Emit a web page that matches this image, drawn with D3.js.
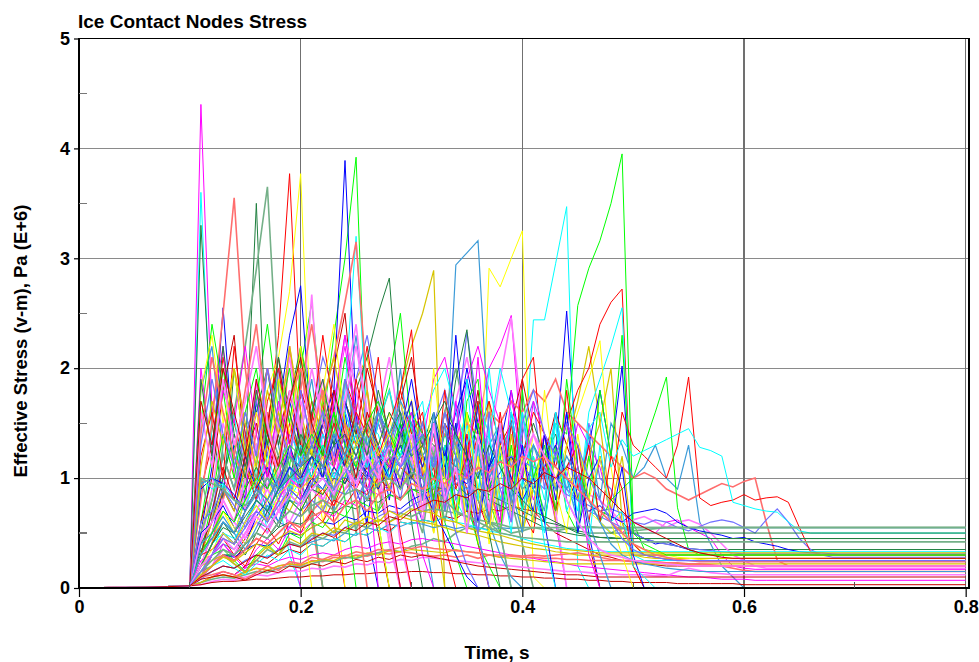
<!DOCTYPE html>
<html>
<head>
<meta charset="utf-8">
<script src="https://cdn.jsdelivr.net/npm/d3@7"></script>
<style>
  body { margin: 0; background: #fff; }
  text { font-family: "Liberation Sans", Arial, sans-serif; font-weight: bold; fill: #000; }
</style>
</head>
<body>
<svg id="chart" width="979" height="662"></svg>
<script>
// Time axis (s) and effective stress (v-m, Pa E+6) for each ice contact node.
// Before contact every node shares the same small ramp; from 0.11 s each node
// has one sample every 0.01 s, and its last sample is held until the end time.
const preContactTime   = [0, 0.02, 0.04, 0.06, 0.08, 0.10];
const preContactStress = [0, 0.002, 0.004, 0.007, 0.012, 0.02];
const contactStartHundredths = 11;   // first contact sample: 0.11 s
const endTime = 0.8;

const xTicks = [0, 0.2, 0.4, 0.6, 0.8];
const xTickLabels = ["0", "0.2", "0.4", "0.6", "0.8"];
const xMinorTicks = [0.1, 0.3, 0.5, 0.7];
const yTicks = [0, 1, 2, 3, 4, 5];
const yTickLabels = ["0", "1", "2", "3", "4", "5"];
const yMinorTicks = [0.5, 1.5, 2.5, 3.5, 4.5];

// early impact peaks
const n00 = [0.9,1.3,2.1,1.5,1.1,1.8,1.4,2.3,3.77,1.6, 0.9,1.7,0.6,0];
const n01 = [0.6,1.2,2.0,1.3,0.9,1.7,2.4,1.6,1.1,2.0, 2.6,1.5,2.3,3.0,3.92,1.2,0.6,0];
const n02 = [0.5,1.1,2.55,1.2,0.8,1.7,1.1,1.6,2.3,2.75, 1.4,1.0,1.8,3.89,1.6,0.5,0];
const n03 = [3.6,1.3,0.9,1.6,0.7,1.1,0.5,0.8,0.3,0];
const n04 = [4.4,1.6,2.2,1.0,0.8,1.9,0.6,1.2,0.4,0];
const n05 = [0.5,0.9,1.4,1.0,0.7,1.2,1.8,2.1,2.7,3.77, 1.2,0.6,1.0,0];
const n06 = [3.3,1.5,0.8,2.0,1.2,3.5,1.0,1.4,0.9,1.6, 0.7,0];
const n07 = [1.8,2.2,1.2,0.9,1.5,1.1,2.0,1.3,0.8,1.4, 1.9,1.2,0.7,1.6,2.3,1.4,0.9,1.2,2.0,1.1, 0.6,0];
const n08 = [0.8,1.5,2.5,3.55,2.0,1.2,1.6,0.9,2.2,1.4, 0.6,0];
const n09 = [1.0,0.6,1.3,1.6,2.2,2.9,3.65,1.8,0.9,1.5, 0.7,0];
const n10 = [0.2,0.5,0.8,0.6,1.0,1.3,0.9,1.2,1.6,1.1, 1.4,1.8,1.5,1.2,1.9,2.1,1.6,1.3,1.8,2.2, 2.5,2.89,0];
const n11 = [0.4,0.9,1.5,1.1,0.7,1.3,1.0,1.6,2.1,1.4, 2.67,1.2,0.8,1.8,2.4,1.5,1.0,0.4,0];
const n12 = [0.3,0.7,1.2,0.9,1.4,1.7,1.2,2.0,1.5,1.1, 1.6,2.1,1.8,1.3,1.9,2.3,1.7,1.2,0.8,1.4, 1.0,0.6,0.9,1.3,0.8,0.5,0];
const n13 = [0.6,1.0,1.8,2.3,1.2,0.8,1.5,2.1,1.3,0.9, 1.6,1.2,2.0,2.5,1.4,0.9,0.5,0];

// peaks between 0.25 s and 0.45 s
const n14 = [0.2,0.4,0.9,0.7,1.1,0.8,1.3,1.0,1.5,1.2, 1.7,1.4,1.1,1.9,1.6,2.2,1.5,1.2,1.8,2.35, 1.0,1.4,0.8,1.2,0.9,0.4,0];
const n15 = [0.3,0.8,1.4,1.0,1.6,1.2,0.9,1.5,2.0,1.3, 1.1,1.7,1.4,2.1,1.6,1.2,1.5,1.9,2.5,1.4, 0.7,1.0,0.6,0.3,0];
const n16 = [0.2,0.5,0.9,0.7,1.2,0.9,1.4,1.1,1.7,1.3, 1.0,1.5,1.8,1.3,1.1,1.6,1.2,1.0,1.4,1.9, 1.3,1.0,1.6,1.4,2.0,1.5,1.1,1.3,1.8,1.2, 0.9,0.6,1.2,2.52,1.1,0.5,0];
const n17 = [0.1,0.3,0.6,0.5,0.8,1.0,0.7,1.1,1.4,1.2, 1.0,1.5,1.3,1.8,3.2,1.5,1.4,1.0,1.3,1.6, 1.2,1.0,1.4,1.1,1.6,1.3,1.0,1.2,1.5,0.9, 2.44,2.44,2.95,3.47,0.2,0];
const n18 = [0.3,0.6,1.0,0.8,1.3,1.6,1.1,0.9,1.4,1.8, 1.3,1.0,1.7,2.2,1.5,1.2,0.9,1.4,1.1,1.6, 1.3,1.9,2.1,1.6,1.2,1.5,2.0,2.2,2.48,1.2, 0.8,1.1,0.6,0];
const n19 = [0.2,0.4,0.7,0.6,0.9,1.1,0.8,1.2,1.0,1.4, 1.1,1.6,1.3,1.0,1.5,1.2,0.9,1.3,1.7,1.1, 0.8,1.2,0.9,1.3,1.6,0.4,2.91,2.74,3.0,3.25, 0.1,0];
const n20 = [0.4,0.6,1.0,1.4,1.1,1.6,2.0,1.3,1.7,2.2, 1.5,1.0,1.6,2.3,1.8,2.1,2.5,2.82,1.5,0.6, 0];
const n21 = [0.2,0.4,0.6,0.5,0.8,1.0,0.7,0.9,1.2,1.0, 1.3,1.1,1.5,1.2,1.6,1.3,1.1,1.4,1.2,1.5, 1.2,1.4,1.0,2.94,3.05,3.16,1.4,0.5,0];
const n22 = [0.2,0.4,0.8,1.2,1.0,1.4,2.0,1.5,1.2,1.8, 2.4,1.7,2.1,2.6,3.15,1.8,0.9,0.5,0];
const n23 = [0.5,0.8,1.2,0.9,1.3,1.0,1.5,1.2,0.9,1.4, 1.1,1.6,1.3,1.9,1.4,1.1,1.5,1.8,1.3,1.0, 1.4,1.1,1.6,2.0,1.5,1.2,1.0,1.3,0.8,0.4, 0];
const n24 = [0.3,0.6,0.9,0.7,1.1,0.9,1.3,1.6,1.2,1.0, 1.4,1.2,0.8,1.1,1.5,1.3,1.0,1.2,0.9,1.1, 0.6,1.3,0.7,1.5,0.5,1.1,1.7,0.8,1.2,0.5, 0.9,1.4,0.6,1.3,1.7,2.2,1.5,0.7,1.2,0.4, 0.3];
const n25 = [0.2,0.5,0.8,0.6,1.0,1.3,0.9,1.5,1.2,1.7, 1.4,1.9,1.5,2.3,1.8,1.2,1.6,2.1,1.4,1.0, 1.5,1.2,0.9,1.7,2.1,1.6,1.3,1.9,2.46,1.5, 1.0,1.3,0.7,0];
const n26 = [0.1,0.3,0.5,0.4,0.7,0.9,0.6,1.0,0.8,1.2, 1.0,1.4,1.1,1.6,1.3,1.1,1.5,1.2,1.6,1.3, 1.1,1.5,1.8,1.4,2.33,1.6,1.2,1.5,1.1,1.4, 1.7,0.9,1.6,0.8,0.6,1.5,1.0,0.9,0.6,0.3, 0.3];
const n27 = [0.3,0.7,1.1,0.8,1.2,1.5,1.0,1.4,1.8,1.3, 1.0,1.5,1.2,1.7,1.4,2.0,1.6,1.3,1.7,2.1, 1.4,0.7,1.3,0.6,1.2,1.8,0.9,0.6,1.5,1.9, 1.4,1.2,1.6,1.3,1.0,0.4,0];

// late peaks around 0.5 s
const n28 = [0.1,0.2,0.35,0.3,0.45,0.6,0.5,0.7,0.9,0.8, 1.0,1.2,0.9,1.1,1.4,1.2,1.0,1.3,1.6,1.2, 0.9,1.1,1.5,1.3,1.0,1.4,1.7,1.3,1.0,1.2, 1.6,1.4,1.1,1.5,1.8,2.0,2.4,2.6,2.72,0.4, 0.3,0.28,0.26,0.25];
const n29 = [0.1,0.2,0.3,0.25,0.4,0.5,0.45,0.6,0.8,0.7, 0.9,1.1,0.8,1.0,1.3,1.1,0.9,1.2,1.5,1.1, 1.3,1.0,1.4,1.2,1.6,1.3,1.1,1.5,1.2,1.0, 1.3,1.1,1.5,1.4,2.57,2.91,3.16,3.5,3.95,0.6, 0.35,0.33,0.3,0.3];
const n30 = [0.1,0.3,0.5,0.4,0.6,0.8,0.7,0.9,1.1,1.0, 1.2,0.7,1.1,1.6,0.9,0.6,1.3,0.8,1.5,0.9, 0.6,1.3,0.8,1.5,0.7,1.7,1.0,0.6,1.6,1.0, 0.7,1.4,0.9,1.6,0.8,1.3,1.8,1.2,2.02,0.5, 0.45,0.4,0.42,0.38,0.35,0.32,0.3,0.3];
const n31 = [0.2,0.4,0.6,0.5,0.7,0.9,0.8,1.0,0.9,1.2, 1.0,1.3,1.1,1.5,1.2,1.4,1.1,1.3,1.6,1.2, 1.4,0.8,1.3,0.6,1.5,0.9,1.4,0.7,1.6,1.0, 0.6,1.2,1.5,0.9,0.7,1.6,1.9,2.2,2.55,0.3, 0.25];
const n32 = [0.1,0.2,0.4,0.3,0.5,0.7,0.6,0.8,1.0,0.9, 1.1,0.8,1.0,1.3,1.1,0.9,1.2,1.0,1.4,1.1, 0.9,1.2,1.6,1.3,1.9,2.2,1.8,1.5,1.7,1.3, 1.1,1.4,1.2,1.0,1.5,1.3,1.1,0.7,0.5,0.6, 0.55,0.5,0.6,0.62,0.55,0.5,0.45,0.3,0.2,0.18, 0.17];
const n33 = [0.2,0.4,0.7,0.5,0.8,1.0,0.8,1.1,1.3,1.0, 1.2,0.7,1.1,1.5,0.8,0.5,1.3,1.6,0.9,1.4, 0.7,1.5,0.9,0.5,1.4,1.7,0.9,0.6,1.3,0.8, 1.4,1.2,1.0,1.3,1.6,1.9,2.25,1.1,0.5,0.2, 0];
const n34 = [0.3,0.5,0.7,0.6,0.9,1.1,0.9,1.2,1.0,1.4, 1.2,1.5,1.3,1.7,1.4,1.2,1.6,1.4,1.1,1.5, 1.3,1.6,1.2,1.9,2.35,1.4,1.1,1.3,1.0,1.2, 1.5,1.2,1.4,1.0,0.9,0.8,0.7,0.65,0.6,0.5, 0.45,0.42,0.4,0.38,0.36,0.35];
const n35 = [0.1,0.3,0.4,0.35,0.5,0.6,0.55,0.7,0.8,0.75, 0.9,1.0,0.85,1.1,1.0,1.2,1.05,1.3,1.1,1.2, 0.6,1.3,0.8,1.4,0.7,0.5,1.3,1.5,0.8,1.6, 1.0,0.7,1.6,1.0,0.6,1.4,0.8,1.5,1.3,1.0, 1.1,1.3,1.0,0.9,1.3,0.6,0.4,0.2,0.1,0];
const n36 = [0.1,0.2,0.3,0.25,0.35,0.45,0.4,0.5,0.6,0.55, 0.7,0.8,0.75,0.9,1.0,0.9,1.1,1.0,1.2,1.1, 1.3,1.2,1.4,1.3,1.5,1.4,1.6,1.5,1.7,1.6, 1.8,1.7,1.9,1.6,1.5,1.4,1.3,1.2,1.1,1.0, 1.05,1.0,0.9,0.85,0.8,0.85,0.9,0.95,0.92,0.97, 1.0,0.6,0.25,0.2,0.2];
const n37 = [0.2,0.3,0.5,0.4,0.6,0.8,0.7,0.9,1.1,1.0, 0.6,1.3,0.8,1.2,0.5,1.2,0.7,1.1,1.4,0.8, 0.5,1.2,0.6,1.1,1.3,0.6,1.2,0.7,1.1,0.9, 1.0,1.2,0.9,1.1,1.3,0.8,0.6,0.5,0.55,0.52, 0.53,0.54,0.55,0.55];
const n38 = [0.15,0.3,0.45,0.4,0.6,0.75,0.6,0.8,0.7,0.9, 1.0,0.85,1.1,0.95,1.2,1.0,0.9,1.15,1.0,1.3, 1.1,0.5,1.2,0.6,1.3,0.7,0.95,0.5,1.4,0.7, 0.9,1.1,1.3,1.0,0.8,1.2,1.5,2.0,0.6,0.3, 0.28,0.27,0.27];
const n39 = [0.1,0.2,0.35,0.3,0.5,0.6,0.5,0.7,0.6,0.8, 0.9,0.8,1.0,0.9,1.1,1.0,1.2,1.1,0.95,1.2, 0.6,1.3,0.7,1.0,1.4,0.6,1.1,0.5,1.0,1.2, 1.4,1.1,1.3,1.0,0.9,0.85,0.8,0.7,0.6,0.62, 0.65,0.6,0.55,0.6,0.62,0.58,0.5,0.4,0.3,0.25, 0.2,0.18];
const n40 = [0.1,0.2,0.3,0.3,0.4,0.5,0.45,0.6,0.55,0.7, 0.8,0.7,0.9,0.85,1.0,0.9,1.1,1.0,1.2,1.1, 1.0,1.2,1.1,1.3,1.2,1.0,1.1,0.9,1.0,1.1, 1.0,0.9,0.95,0.85,0.8,0.75,0.7,0.72,0.68,0.6, 0.58,0.62,0.6,0.55,0.52,0.56,0.6,0.62,0.6,0.55, 0.5,0.62,0.72,0.6,0.45,0.35,0.3,0.28];
const n41 = [0.05,0.1,0.15,0.12,0.2,0.25,0.22,0.3,0.35,0.32, 0.4,0.38,0.45,0.42,0.5,0.48,0.55,0.52,0.6,0.58, 0.62,0.6,0.65,0.63,0.7,0.68,0.72,0.7,0.75,0.72, 0.7,0.6,0.5,0.45,0.4,0.35,0.3,0.28,0.25,0.24, 0.22,0.21,0.2,0.2];

// peaks after 0.5 s and the residual stress levels
const n42 = [0.1,0.2,0.3,0.25,0.4,0.5,0.45,0.6,0.7,0.65, 0.8,0.9,0.75,1.0,0.9,1.1,1.0,1.2,1.1,1.3, 1.2,0.6,1.3,0.7,1.4,0.8,0.5,1.3,1.5,0.7, 0.5,1.2,0.7,1.1,1.3,0.6,1.2,0.8,1.6,1.3, 1.2,1.1,1.0,1.3,1.92,0.82,0.75,0.78,0.8,0.85, 0.8,0.82,0.83,0.78,0.55,0.33,0.3];
const n43 = [0.2,0.4,0.6,0.5,0.7,0.9,0.8,1.0,1.2,1.1, 1.0,1.3,1.1,1.4,1.2,1.0,1.3,1.1,1.5,1.2, 1.4,0.7,1.3,0.6,1.2,1.5,0.8,0.5,1.3,0.7, 1.2,0.6,1.3,0.7,0.5,1.2,0.6,0.8,0.9,1.0, 1.3,1.6,1.92,0.73,0.35,0.3,0.3,0.3];
const n44 = [0.1,0.2,0.3,0.28,0.35,0.4,0.38,0.45,0.5,0.48, 0.55,0.6,0.58,0.65,0.62,0.7,0.68,0.75,0.72,0.8, 0.85,0.9,0.82,1.0,0.95,1.1,0.9,1.05,1.2,1.0, 0.9,1.1,1.3,1.0,0.8,0.7,0.75,0.65,0.6,0.68, 0.7,0.72,0.68,0.6,0.55,0.52,0.5,0.48,0.45,0.46, 0.42,0.4,0.38,0.35,0.33,0.32,0.32,0.31,0.3];
const n45 = [0.15,0.3,0.5,0.4,0.6,0.75,0.65,0.85,0.8,1.0, 0.95,1.1,1.0,1.2,1.1,1.3,1.15,1.0,1.25,1.1, 1.2,0.7,1.3,0.8,0.6,1.25,1.4,0.8,1.1,0.7, 1.2,0.8,1.6,1.0,0.7,1.45,1.6,1.1,1.35,1.2, 1.25,1.3,1.35,1.4,1.45,1.28,1.25,1.2,0.78,0.75, 0.72,0.7,0.69,0.6,0.52,0.5,0.5];
const n46 = [0.05,0.1,0.15,0.12,0.18,0.22,0.2,0.25,0.28,0.26, 0.3,0.32,0.3,0.35,0.38,0.36,0.4,0.42,0.4,0.44, 0.45,0.43,0.42,0.4,0.38,0.36,0.34,0.32,0.3,0.28, 0.27,0.25,0.24,0.22,0.2,0.19,0.18,0.17,0.16,0.15, 0.14,0.13,0.12,0.11,0.1,0.1,0.09,0.08,0.08,0.08, 0.07,0.07,0.07];
const n47 = [0.1,0.3,0.5,0.4,0.6,0.8,0.7,0.9,0.8,1.1, 1.0,1.2,0.9,1.1,1.3,1.0,1.2,1.4,1.1,1.0, 1.2,0.5,1.1,1.3,0.6,1.2,0.4,1.0,1.1,0.5, 1.0,1.2,0.9,1.1,0.8,0.7,0.6,0.5,0.45,0.4, 0.35,0.32,0.3,0.28,0.27,0.26,0.25,0.25];
const n48 = [0.1,0.2,0.3,0.3,0.4,0.5,0.45,0.55,0.6,0.58, 0.65,0.7,0.68,0.75,0.72,0.8,0.78,0.85,0.82,0.9, 0.88,0.92,0.9,0.95,0.85,0.9,0.8,0.75,0.7,0.65, 0.6,0.55,0.52,0.5,0.48,0.47,0.46,0.46,0.45,0.45];
const n49 = [0.1,0.15,0.2,0.18,0.25,0.3,0.28,0.35,0.4,0.38, 0.42,0.45,0.43,0.5,0.48,0.55,0.52,0.58,0.56,0.6, 0.58,0.55,0.57,0.54,0.56,0.55,0.53,0.55,0.54,0.55];
const n50 = [0.05,0.1,0.12,0.1,0.15,0.18,0.16,0.2,0.22,0.2, 0.25,0.24,0.28,0.27,0.3,0.29,0.32,0.31,0.33,0.32, 0.3,0.29,0.3,0.28,0.3,0.27,0.3,0.28,0.3,0.29, 0.3,0.29,0.3,0.31,0.32,0.3,0.28,0.26,0.25,0.24, 0.24,0.23,0.22,0.22,0.21,0.21,0.2,0.2];
const n51 = [0.05,0.08,0.1,0.09,0.12,0.15,0.14,0.18,0.2,0.19, 0.22,0.25,0.24,0.28,0.27,0.3,0.32,0.35,0.33,0.38, 0.4,0.45,0.42,0.5,0.55,0.52,0.6,0.55,0.5,0.52, 0.55,0.53,0.52,0.54,0.55,0.56,0.55,0.55,0.54,0.55];
const n52 = [0.05,0.1,0.12,0.1,0.14,0.18,0.16,0.2,0.22,0.21, 0.24,0.26,0.25,0.3,0.28,0.32,0.3,0.34,0.33,0.35, 0.34,0.33,0.32,0.35,0.33,0.32,0.3,0.28,0.27,0.26, 0.25,0.24,0.23,0.22,0.22,0.22];
const n53 = [0.03,0.06,0.08,0.07,0.1,0.12,0.11,0.14,0.16,0.15, 0.18,0.17,0.2,0.19,0.22,0.21,0.24,0.23,0.26,0.25, 0.28,0.27,0.26,0.25,0.24,0.23,0.22,0.21,0.2,0.19, 0.18,0.17,0.16,0.15,0.15,0.14,0.13,0.13,0.12,0.12, 0.12,0.11,0.11,0.15,0.18,0.16,0.14,0.13,0.12,0.12];
const n54 = [0.08,0.15,0.2,0.18,0.25,0.3,0.28,0.35,0.4,0.38, 0.45,0.5,0.48,0.55,0.6,0.58,0.65,0.7,0.68,0.75, 0.8,0.85,0.9,0.95,1.0,1.05,1.1,1.15,1.2,1.15, 1.1,1.05,1.0,0.9,0.8,0.7,0.65,0.6,0.55,0.5, 0.45,0.42,0.4,0.38,0.36,0.35,0.34,0.33,0.32,0.31];
const n55 = [0.03,0.05,0.06,0.06,0.07,0.08,0.08,0.09,0.1,0.1, 0.11,0.11,0.12,0.12,0.13,0.13,0.14,0.14,0.14,0.15, 0.15,0.14,0.14,0.13,0.13,0.12,0.12,0.11,0.11,0.1, 0.1,0.09,0.09,0.08,0.08,0.07,0.07,0.06,0.06,0.05, 0.05,0.05,0.05,0.04,0.04,0.04,0.04,0.04,0.04,0.03, 0.03];

// low stress band and early contact losses
const n56 = [0.3,0.35,0.45,0.3,0.2,0.4,0.55,0.4,0.6,0.5, 0.7,0.6,0.8,0.75,0.9,0.85,1.0,0.9,1.1,1.0, 1.2,1.1,0.4,0];
const n57 = [0.2,0.3,0.35,0.25,0.15,0.3,0.4,0.3,0.5,0.45, 0.6,0.55,0.7,0.65,0.8,0.75,0.7,0.85,0.8,0.9, 0.85,0.95,1.0,0.9,0.8,0.4,0.2,0];
const n58 = [0.5,0.6,0.75,0.55,0.4,0.65,0.8,0.6,0.9,0.8, 1.0,0.9,1.1,0.95,1.2,1.05,0.9,1.1,1.3,1.0, 0.9,0.7,0.5,0.3,0.1,0];
const n59 = [0.15,0.2,0.25,0.18,0.12,0.22,0.3,0.25,0.35,0.3, 0.4,0.38,0.45,0.42,0.5,0.48,0.55,0.5,0.6,0.58, 0.62,0.6,0.65,0.6,0.58,0.55,0.52,0.5,0.48,0.45, 0.42,0.4,0.38,0.36,0.35,0.34,0.34,0.33,0.33,0.33];
const n60 = [0.25,0.3,0.4,0.28,0.18,0.35,0.45,0.35,0.55,0.5, 0.6,0.7,0.65,0.8,0.75,0.9,0.85,0.95,1.0,0.9, 0.3,0];
const n61 = [0.3,0.5,0.7,0.55,0.4,0.6,0.8,0.7,0.9,0.85, 0];
const n62 = [0.35,0.45,0.6,0.45,0.3,0.5,0.7,0.55,0.8,0.7, 0.9,0.85,1.0,0.95,1.1,1.0,1.2,1.1,1.3,1.25, 1.4,1.3,1.2,1.1,1.0,0.9,0.85,0.8,0.75,0.7, 0.65,0.6,0.58,0.55,0.52,0.5,0.5,0.5];
const n63 = [0.4,0.5,0.65,0.5,0.35,0.55,0.75,0.6,0.85,0.75, 0.95,0.9,1.05,1.0,1.15,1.1,1.0,1.2,1.1,1.3, 1.2,1.1,1.25,1.0,0.9,1.05,0.6,0.3,0.1,0];
const n64 = [0.1,0.12,0.15,0.12,0.08,0.14,0.2,0.16,0.24,0.22, 0.28,0.26,0.3,0.29,0.33,0.31,0.35,0.34,0.37,0.36, 0.38,0.36,0.35,0.34,0.33,0.32,0.3,0.3,0.29,0.28, 0.28,0.27,0.27,0.26,0.26,0.25,0.25,0.25,0.25,0.25, 0.24,0.24,0.23,0.23,0.22,0.22,0.21,0.2,0.18,0.16, 0.15,0.15];
const n65 = [0.15,0.2,0.3,0.22,0.15,0.25,0.35,0.3,0.42,0.38, 0.48,0.45,0.52,0.5,0.58,0.55,0.62,0.6,0.68,0.65, 0.7,0.72,0.7,0.68,0.65,0.62,0.6,0.58,0.55,0.55, 0.55,0.55];
const n66 = [0.2,0.25,0.3,0.22,0.14,0.28,0.38,0.3,0.45,0.4, 0.5,0.48,0.55,0.52,0.6,0.58,0.62,0.6,0.65,0.62, 0.6,0.58,0.55,0.52,0.5,0.48,0.45,0.42,0.4,0.38, 0.36,0.35,0.33,0.32,0.3,0.3,0.3];
const n67 = [0.45,0.6,0.8,0.6,0.45,0.7,0.9,0.7,1.0,0.9, 1.1,1.0,1.2,1.1,0.9,1.3,1.1,1.2,0.4,0];
const n68 = [0.6,0.7,0.9,0.75,0.55,0.8,1.0,0.85,1.1,0.95, 1.2,1.0,1.3,1.1,0.8,1.0,1.2,0.9,1.1,1.3, 1.0,1.2,0.9,0.5,0.2,0];
const n69 = [0.08,0.1,0.12,0.1,0.07,0.12,0.16,0.14,0.2,0.18, 0.22,0.2,0.24,0.22,0.26,0.24,0.28,0.26,0.3,0.28, 0.3,0.28,0.26,0.24,0.22,0.2,0.19,0.18,0.17,0.16, 0.15,0.14,0.13,0.12,0.12,0.11,0.1,0.1,0.1];

// mid-level fluctuations during crushing
const n70 = [1.2,1.6,1.0,2.2,1.4,0.9,1.7,2.0,1.3,1.8, 1.5,2.3,1.6,1.1,1.9,1.4,2.1,1.2,0.5,0];
const n71 = [1.5,2.4,1.8,1.1,1.6,2.0,1.3,1.9,1.5,2.2, 1.7,1.2,1.6,0.8,0];
const n72 = [0.9,1.0,0.95,0.85,0.7,0.9,1.1,0.9,1.3,1.0, 1.2,1.5,1.1,1.7,1.3,1.0,1.6,1.2,0.9,1.4, 1.1,1.5,1.2,1.6,1.9,1.4,1.1,1.3,1.0,0.8, 1.0,0.6,0];
const n73 = [1.0,0.9,0.95,0.8,0.75,0.95,1.2,0.9,1.0,1.3, 1.0,1.4,1.2,1.6,1.3,1.1,1.5,1.8,1.4,1.2, 1.5,1.8,2.0,1.6,1.3,1.7,1.4,2.0,1.6,1.3, 1.1,0.4,0];
const n74 = [2.0,1.2,1.8,1.5,2.2,1.4,1.0,1.7,1.3,0.8, 1.4,1.1,1.7,2.3,1.6,1.2,0];
const n75 = [1.8,2.3,1.5,2.0,1.2,1.6,1.1,1.9,1.4,2.2, 1.3,1.8,2.4,1.5,1.1,1.6,0.6,0];
const n76 = [1.9,1.2,2.2,1.4,1.0,1.8,1.3,2.1,1.6,1.2, 1.6,1.9,1.3,1.1,1.5,1.2,1.8,1.4,1.6,1.0, 1.3,1.5,1.1,1.4,1.2,0.9,0.5,0];
const n77 = [0.95,1.0,0.9,0.8,0.7,0.85,1.0,0.8,1.1,0.9, 1.2,1.0,0.9,1.3,1.1,0.8,1.2,1.0,1.4,1.1, 0.9,1.2,1.0,1.4,1.1,1.3,1.0,1.2,1.5,1.1, 1.3,1.0,1.2,0.9,1.1,0.6,0.3,0];
const n78 = [1.4,2.1,1.6,1.2,1.8,2.4,1.5,1.1,1.7,2.0, 1.4,1.8,1.1,1.5,0.8,0];
const n79 = [1.0,0.95,0.9,0.8,0.75,0.85,1.0,0.9,1.2,1.0, 1.3,1.1,1.5,1.2,1.0,1.4,1.6,1.2,1.0,1.3, 1.5,1.2,1.6,1.3,1.0,0.8,0.6,0.5,0];
const n80 = [1.1,1.7,1.3,2.0,1.5,1.1,1.8,1.4,2.2,1.6, 1.2,1.7,2.1,1.5,1.3,1.8,1.2,0.9,1.4,1.7, 1.2,0.8,0];
const n81 = [1.6,1.1,1.9,1.3,1.7,2.2,1.5,1.0,1.8,1.4, 2.0,1.5,1.2,1.7,2.2,1.6,1.1,0.5,0];
const n82 = [1.3,1.9,1.4,1.1,1.6,1.2,2.0,1.5,1.2,1.8, 1.3,1.6,1.2,1.9,1.5,1.1,1.6,1.3,1.7,1.2, 1.5,1.1,1.6,1.2,1.0,0.5,0];
const n83 = [1.7,1.3,2.0,1.6,1.2,1.9,1.4,1.1,1.7,2.1, 1.5,1.2,1.8,1.4,1.0,1.6,1.3,0.6,0];

// nodes loaded mostly in the second half of the contact
const n84 = [0.2,0.4,0.6,0.5,0.7,0.9,0.8,1.0,1.2,1.1, 1.3,1.1,1.5,1.2,1.6,1.4,1.2,1.5,1.8,1.4, 1.6,0.8,1.8,0.9,1.2,1.7,0.6,1.6,0.9,1.9, 2.1,1.0,0.7,1.8,0.9,1.3,0.6,1.2,0.9,0.2, 0];
const n85 = [0.3,0.5,0.7,0.6,0.8,1.0,0.9,1.1,1.3,1.2, 1.4,1.2,1.6,1.3,1.1,1.5,1.7,1.4,1.2,1.6, 1.4,0.8,1.5,0.6,1.7,1.9,0.9,1.2,0.6,1.8, 1.0,1.3,0.7,1.9,1.1,0.8,1.8,1.2,2.3,0.5, 0.4,0.35,0.3,0.3,0.3];
const n86 = [0.2,0.3,0.5,0.4,0.6,0.8,0.7,0.9,1.1,1.0, 1.2,1.0,1.4,1.1,1.3,1.5,1.2,1.0,1.4,1.7, 0.8,1.6,1.0,2.3,1.2,0.6,1.1,1.5,0.7,1.3, 0.6,1.4,0.8,1.6,0.5,1.0,1.2,0.6,1.1,0.3, 0];
const n87 = [0.2,0.4,0.5,0.45,0.6,0.8,0.7,0.9,1.0,0.95, 1.1,1.3,1.0,1.2,1.4,1.1,1.3,1.0,1.2,1.5, 1.7,0.9,1.2,0.6,1.9,0.8,2.0,1.1,0.5,1.6, 0.9,0.5,1.5,0.7,1.0,0.4,1.3,0.6,0.7,0.2, 0.1,0];
const n88 = [0.1,0.3,0.5,0.4,0.6,0.7,0.6,0.8,1.0,0.9, 1.0,1.2,1.1,1.4,1.2,1.5,1.3,1.1,1.4,1.6, 0.8,1.5,0.7,1.7,1.0,2.1,0.9,0.6,1.8,1.0, 1.7,1.4,1.2,1.5,1.1,0.3,0];
const n89 = [0.2,0.35,0.5,0.4,0.6,0.75,0.6,0.85,0.95,0.9, 1.0,1.2,0.9,1.1,1.3,1.5,1.2,1.4,1.7,1.3, 0.7,2.0,1.0,0.6,1.6,0.9,0.5,1.3,0.7,1.2, 0.6,1.8,0.9,0.5,1.4,0.8,1.2,0.6,0.3,0];
const n90 = [0.2,0.4,0.55,0.5,0.65,0.8,0.7,0.9,1.0,1.1, 1.2,1.1,1.3,1.4,1.2,1.5,1.3,1.6,1.4,1.2, 1.3,1.5,1.7,1.4,1.2,1.0,1.3,1.1,0.9,0.8, 0.7,0.65,0.6,0.55,0.5,0.48,0.46,0.45,0.45];
const n91 = [0.3,0.45,0.6,0.5,0.7,0.9,0.8,1.0,1.2,1.1, 1.3,1.1,1.4,1.2,1.5,1.3,1.6,1.4,1.7,1.5, 0.8,1.6,0.7,1.2,0.5,1.3,0.6,1.4,0.9,0.5, 1.3,1.1,0.9,1.2,1.0,0.8,0.6,0.4,0.3,0.25, 0.22,0.2,0.18,0.17,0.16,0.15];
const n92 = [0.1,0.2,0.3,0.25,0.35,0.45,0.4,0.5,0.6,0.55, 0.65,0.7,0.6,0.75,0.8,0.7,0.85,0.9,0.8,0.95, 0.9,1.0,0.95,1.05,1.0,1.1,1.05,1.15,1.1,1.2, 1.15,1.2,1.1,1.0,0.9,0.8,0.7,0.6,0.5,0.4, 0.35,0.3,0.28,0.26,0.25,0.24,0.24,0.24];
const n93 = [0.15,0.25,0.35,0.3,0.4,0.5,0.45,0.6,0.7,0.65, 0.75,0.8,0.7,0.85,0.9,0.8,0.95,1.0,0.9,1.05, 1.0,0.9,0.8,0.7,0.65,0.6,0.55,0.5,0.48,0.46, 0.45,0.44,0.43,0.42,0.42,0.42];
const n94 = [0.12,0.2,0.28,0.24,0.32,0.4,0.36,0.45,0.52,0.48, 0.55,0.6,0.5,0.62,0.58,0.65,0.6,0.7,0.65,0.72, 0.7,0.68,0.62,0.6,0.55,0.52,0.5,0.48,0.45,0.42, 0.4,0.38,0.36,0.35,0.34,0.33,0.32,0.32,0.32];
const n95 = [0.2,0.3,0.45,0.35,0.5,0.65,0.55,0.7,0.85,0.75, 0.9,1.0,0.85,1.1,0.95,1.2,1.0,1.3,1.1,1.4, 0.7,1.5,0.8,1.1,0.5,1.4,0.7,1.5,0.6,1.1, 1.4,1.2,1.0,0.8,0.6,0.45,0.35,0.3,0.28,0.25, 0.24,0.23,0.22,0.21,0.2];
const n96 = [0.15,0.3,0.45,0.4,0.55,0.7,0.6,0.75,0.9,0.8, 0.95,1.1,0.9,1.05,1.2,1.0,1.15,1.3,1.1,1.25, 1.4,0.7,1.5,0.8,1.1,0.5,1.6,0.9,0.6,1.5, 1.8,1.4,1.2,1.5,1.3,1.0,0.8,0.6,0.45,0.35, 0.3,0.28,0.26,0.25,0.25];
const n97 = [0.1,0.15,0.2,0.18,0.24,0.3,0.27,0.34,0.4,0.37, 0.44,0.5,0.46,0.55,0.52,0.6,0.57,0.65,0.62,0.7, 0.75,0.8,0.78,0.85,0.82,0.9,0.88,0.95,0.9,1.0, 0.95,1.05,1.0,1.1,1.05,1.0,0.9,0.8,0.7,0.6, 0.55,0.5,0.45,0.4,0.35,0.32,0.3,0.28,0.27,0.27];

const nodeSeries = [
  n00,n01,n02,n03,n04,n05,n06,n07,n08,n09,n10,n11,n12,n13,
  n14,n15,n16,n17,n18,n19,n20,n21,n22,n23,n24,n25,n26,n27,
  n28,n29,n30,n31,n32,n33,n34,n35,n36,n37,n38,n39,n40,n41,
  n42,n43,n44,n45,n46,n47,n48,n49,n50,n51,n52,n53,n54,n55,
  n56,n57,n58,n59,n60,n61,n62,n63,n64,n65,n66,n67,n68,n69,
  n70,n71,n72,n73,n74,n75,n76,n77,n78,n79,n80,n81,n82,n83,
  n84,n85,n86,n87,n88,n89,n90,n91,n92,n93,n94,n95,n96,n97
];

// Curve colours cycle through the plotting palette in node order.
const palette = ["#ff0000","#00ff00","#0000ff","#00ffff","#ff00ff","#ffff00","#1f7f3f",
                 "#3c9bd8","#ff6e6e","#74b088","#d6c400","#ff7aff","#7070ff","#c80000"];
const paletteWidth = [1,1,1,1,1,1,1, 1.2,1.6,1.6,1.2,1.6,1.2,1];

const svg = d3.select("#chart");
const margin = { left: 79, right: 10, top: 38.5, bottom: 74 };
const W = 979, H = 662;

const x = d3.scaleLinear().domain([0, 0.803]).range([margin.left, W - margin.right]);
const y = d3.scaleLinear().domain([0, 5]).range([H - margin.bottom, margin.top]);

// grid
svg.append("g").selectAll("line").data(yTicks.slice(1, -1)).join("line")
  .attr("x1", x(0)).attr("x2", x.range()[1])
  .attr("y1", d => y(d)).attr("y2", d => y(d))
  .attr("stroke", "#8a8a8a").attr("stroke-width", 1.2).attr("shape-rendering", "crispEdges");
svg.append("g").selectAll("line").data(xTicks.slice(1)).join("line")
  .attr("x1", d => x(d)).attr("x2", d => x(d))
  .attr("y1", y(0)).attr("y2", y(5))
  .attr("stroke", "#707070").attr("stroke-width", 1.2).attr("shape-rendering", "crispEdges");

// curves
svg.append("clipPath").attr("id", "plotClip").append("rect")
  .attr("x", x(0)).attr("y", y(5)).attr("width", x.range()[1] - x(0)).attr("height", y(0) - y(5));

function nodePoints(values) {
  const pts = preContactTime.map((t, i) => [t, preContactStress[i]]);
  values.forEach((v, i) => pts.push([(contactStartHundredths + i) / 100, v]));
  pts.push([endTime, values[values.length - 1]]);
  return pts;
}
const line = d3.line().x(d => x(d[0])).y(d => y(d[1]));
const color = d3.scaleOrdinal().domain(d3.range(palette.length)).range(palette);
const width = d3.scaleOrdinal().domain(d3.range(palette.length)).range(paletteWidth);

svg.append("g").attr("clip-path", "url(#plotClip)")
  .selectAll("path").data(nodeSeries).join("path")
  .attr("d", d => line(nodePoints(d)))
  .attr("fill", "none")
  .attr("stroke", (d, i) => color(i % palette.length))
  .attr("stroke-width", (d, i) => width(i % palette.length))
  .attr("stroke-linejoin", "miter");

// frame
svg.append("rect").attr("x", x(0)).attr("y", y(5))
  .attr("width", x.range()[1] - x(0)).attr("height", y(0) - y(5))
  .attr("fill", "none").attr("stroke", "#000").attr("stroke-width", 1.2)
  .attr("shape-rendering", "crispEdges");

// axes
const yAxis = d3.axisLeft(y).tickValues(yTicks).tickFormat((d, i) => yTickLabels[i])
  .tickSizeInner(5).tickSizeOuter(0).tickPadding(4);
const gy = svg.append("g").attr("transform", `translate(${x(0)},0)`).call(yAxis);
gy.select(".domain").remove();
gy.selectAll("line").attr("stroke", "#000").attr("stroke-width", 1.2);
gy.selectAll("text").attr("font-size", 18).attr("font-family", "Liberation Sans, Arial, sans-serif");

const xAxis = d3.axisBottom(x).tickValues(xTicks).tickFormat((d, i) => xTickLabels[i])
  .tickSizeInner(9).tickSizeOuter(0).tickPadding(3);
const gx = svg.append("g").attr("transform", `translate(0,${y(0)})`).call(xAxis);
gx.select(".domain").remove();
gx.selectAll("line").attr("stroke", "#000").attr("stroke-width", 1.2);
gx.selectAll("text").attr("font-size", 18).attr("font-family", "Liberation Sans, Arial, sans-serif");

// minor ticks, drawn inward
svg.append("g").selectAll("line").data(yMinorTicks).join("line")
  .attr("x1", x(0)).attr("x2", x(0) + 8)
  .attr("y1", d => y(d)).attr("y2", d => y(d))
  .attr("stroke", "#777").attr("stroke-width", 1.2).attr("shape-rendering", "crispEdges");
svg.append("g").selectAll("line").data(xMinorTicks).join("line")
  .attr("x1", d => x(d)).attr("x2", d => x(d))
  .attr("y1", y(0)).attr("y2", y(0) - 6)
  .attr("stroke", "#555").attr("stroke-width", 1.2).attr("shape-rendering", "crispEdges");

// titles
svg.append("text").attr("x", 78).attr("y", 28).attr("font-size", 19)
  .text("Ice Contact Nodes Stress");
svg.append("text").attr("transform", "translate(27,341) rotate(-90)")
  .attr("text-anchor", "middle").attr("font-size", 18.5)
  .text("Effective Stress (v-m), Pa (E+6)");
svg.append("text").attr("x", 497).attr("y", 659).attr("text-anchor", "middle")
  .attr("font-size", 19).text("Time, s");
</script>
</body>
</html>
